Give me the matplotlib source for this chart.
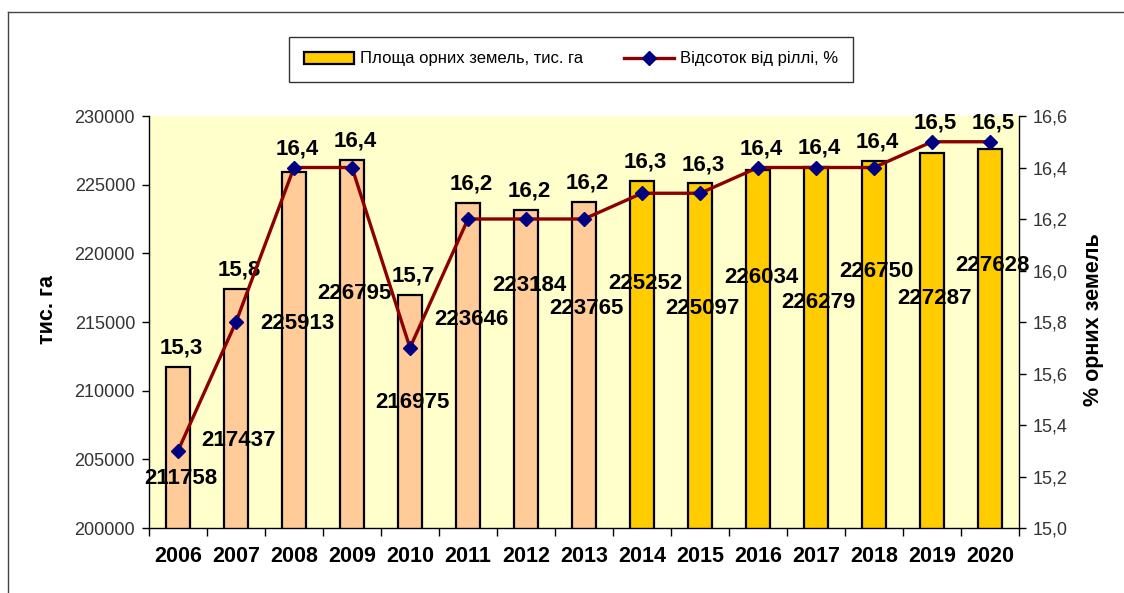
"""Arable land area vs share of arable land, 2006-2020"""

import matplotlib
matplotlib.use("Agg")
import matplotlib.pyplot as plt
from matplotlib.lines import Line2D
from matplotlib.patches import Patch

plt.rcParams["font.family"] = ["Liberation Sans", "DejaVu Sans"]

years = ["2006", "2007", "2008", "2009", "2010", "2011", "2012", "2013",
         "2014", "2015", "2016", "2017", "2018", "2019", "2020"]
area = [211758, 217437, 225913, 226795, 216975, 223646, 223184, 223765,
        225252, 225097, 226034, 226279, 226750, 227287, 227628]
share = [15.3, 15.8, 16.4, 16.4, 15.7, 16.2, 16.2, 16.2,
         16.3, 16.3, 16.4, 16.4, 16.4, 16.5, 16.5]

# where Excel dropped the bar value labels (left axis units)
bar_label_y = [203630, 206390, 214890, 217070, 209150, 215180, 217650, 215980,
               217800, 215980, 218230, 216420, 218670, 216710, 219100]

PEACH = "#FFCC99"
GOLD = "#FFCC00"
BG = "#FFFFCC"
LINE = "#8B0000"
MARK = "#000080"
TICK_TXT = "#333333"

fig = plt.figure(figsize=(11.24, 5.93), dpi=100)
ax = fig.add_axes([149 / 1124, 1 - 528 / 593, 870 / 1124, 412 / 593])
ax2 = ax.twinx()
ax.set_facecolor(BG)
ax.set_zorder(1)
ax2.set_zorder(2)
ax2.patch.set_visible(False)

x = list(range(len(years)))
colors = [PEACH if int(y) < 2014 else GOLD for y in years]
ax.bar(x, area, width=0.43, bottom=0, color=colors, edgecolor="black",
       linewidth=1.6, zorder=2)
ax.set_ylim(200000, 230000)
ax.set_xlim(-0.5, len(years) - 0.5)
ax.set_yticks(range(200000, 230001, 5000))
ax.tick_params(axis="y", direction="out", length=5, width=1, pad=5,
               labelsize=13, labelcolor=TICK_TXT)

ax.set_xticks([i - 0.5 for i in range(len(years) + 1)])
ax.set_xticklabels([])
ax.tick_params(axis="x", which="major", direction="out", length=6, width=1)
ax.set_xticks(x, minor=True)
ax.set_xticklabels(years, minor=True, fontsize=15.5, fontweight="bold")
ax.tick_params(axis="x", which="minor", length=0, pad=13)

for sp in ["top", "right"]:
    ax.spines[sp].set_visible(False)
ax.spines["left"].set_linewidth(1)
ax.spines["bottom"].set_linewidth(1)

ax.set_ylabel("тис. га", fontsize=15.5, fontweight="bold")
ax.yaxis.set_label_coords(-0.105, 0.53)

ax2.plot(x, share, color=LINE, linewidth=2.4, marker="D", markersize=7,
         markerfacecolor=MARK, markeredgecolor=MARK, zorder=3)
ax2.set_ylim(15.0, 16.6)
ax2.set_yticks([15.0 + 0.2 * k for k in range(9)])
ax2.set_yticklabels([f"{15.0 + 0.2 * k:.1f}".replace(".", ",") for k in range(9)])
ax2.tick_params(axis="y", direction="out", length=5, width=1, pad=5,
                labelsize=13, labelcolor=TICK_TXT)
for sp in ["top", "left", "bottom"]:
    ax2.spines[sp].set_visible(False)
ax2.spines["right"].set_linewidth(1)
ax2.set_ylabel("% орних земель", fontsize=15.5, fontweight="bold", rotation=90)
ax2.yaxis.set_label_coords(1.073, 0.505)

# value labels
for i, (a, p, ly) in enumerate(zip(area, share, bar_label_y)):
    ax.text(i + 0.05, ly, str(a), ha="center", va="center", fontsize=16,
            fontweight="bold", zorder=5)
    p_left = 200000 + (p - 15.0) / 1.6 * 30000
    top = max(a, p_left)
    ax.annotate(f"{p:.1f}".replace(".", ","), (i + 0.05, top),
                xytext=(0, 6), textcoords="offset points", ha="center",
                va="bottom", fontsize=16, fontweight="bold", zorder=5,
                annotation_clip=False)

handles = [
    Patch(facecolor=GOLD, edgecolor="black", linewidth=1.6),
    Line2D([0], [0], color=LINE, linewidth=2.4, marker="D", markersize=7,
           markerfacecolor=MARK, markeredgecolor=MARK),
]
leg = fig.legend(handles, ["Площа орних земель, тис. га", "Відсоток від ріллі, %"],
                 loc="center", bbox_to_anchor=(571 / 1124, 1 - 59 / 593),
                 ncol=2, fontsize=12, frameon=True, fancybox=False,
                 edgecolor="black", handlelength=3.0, columnspacing=2.5,
                 borderpad=0.9, handletextpad=0.35, borderaxespad=0)
leg.get_frame().set_linewidth(1)

# outer chart border (only top and left edges visible in the crop)
fig.add_artist(Line2D([8 / 1124, 1.0], [1 - 12 / 593, 1 - 12 / 593],
                      color="#444444", linewidth=1))
fig.add_artist(Line2D([8 / 1124, 8 / 1124], [0.0, 1 - 12 / 593],
                      color="#444444", linewidth=1))

fig.savefig("out.png", dpi=100)
